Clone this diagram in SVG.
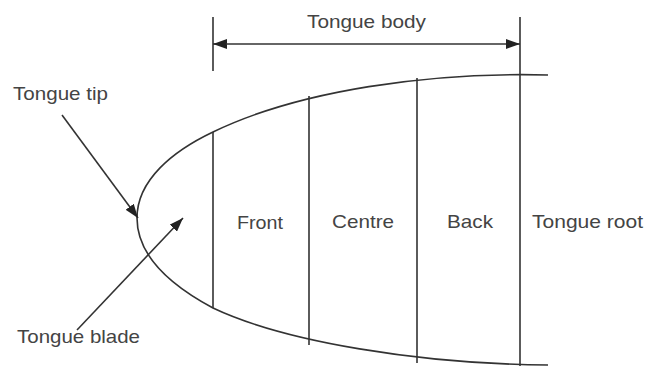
<svg xmlns="http://www.w3.org/2000/svg" width="648" height="369" viewBox="0 0 648 369">
<defs>
<style>
.ln{stroke:#333;stroke-width:1.6;fill:none}
.tx{font-family:"Liberation Sans",Arial,sans-serif;font-size:19px;fill:#444}
</style>
<marker id="ah" viewBox="0 0 14 10" refX="14" refY="5" markerWidth="14" markerHeight="10" markerUnits="userSpaceOnUse" orient="auto">
<path d="M0,0 L14,5 L0,10 Z" fill="#222"/>
</marker>
</defs>
<rect width="648" height="369" fill="#fff"/>
<g id="tongue">
<path class="ln" d="M548,75 C430,72 300,90 213,132 C173,151 137,180 137,218 C137,255 170,285 213,308 C285,342 420,364 548,365"/>
<line class="ln" x1="213" y1="132" x2="213" y2="308"/>
<line class="ln" x1="309" y1="96" x2="309" y2="345"/>
<line class="ln" x1="417" y1="78" x2="417" y2="363"/>
<line class="ln" x1="520" y1="17" x2="520" y2="366"/>
<line class="ln" x1="213" y1="17" x2="213" y2="71"/>
</g>
<g id="connectors">
<line class="ln" x1="226" y1="44" x2="213" y2="44" marker-end="url(#ah)"/>
<line class="ln" x1="226" y1="44" x2="520" y2="44" marker-end="url(#ah)"/>
<line class="ln" x1="62" y1="115" x2="138" y2="218" marker-end="url(#ah)"/>
<line class="ln" x1="77" y1="330" x2="183" y2="218" marker-end="url(#ah)"/>
</g>
<g id="labels">
<text class="tx" x="307" y="28" textLength="119" lengthAdjust="spacingAndGlyphs">Tongue body</text>
<text class="tx" x="13" y="100" textLength="95" lengthAdjust="spacingAndGlyphs">Tongue tip</text>
<text class="tx" x="17" y="343" textLength="123" lengthAdjust="spacingAndGlyphs">Tongue blade</text>
<text class="tx" x="237" y="229" textLength="46" lengthAdjust="spacingAndGlyphs">Front</text>
<text class="tx" x="332" y="228" textLength="62" lengthAdjust="spacingAndGlyphs">Centre</text>
<text class="tx" x="447" y="228" textLength="46" lengthAdjust="spacingAndGlyphs">Back</text>
<text class="tx" x="532" y="228" textLength="111" lengthAdjust="spacingAndGlyphs">Tongue root</text>
</g>
</svg>
